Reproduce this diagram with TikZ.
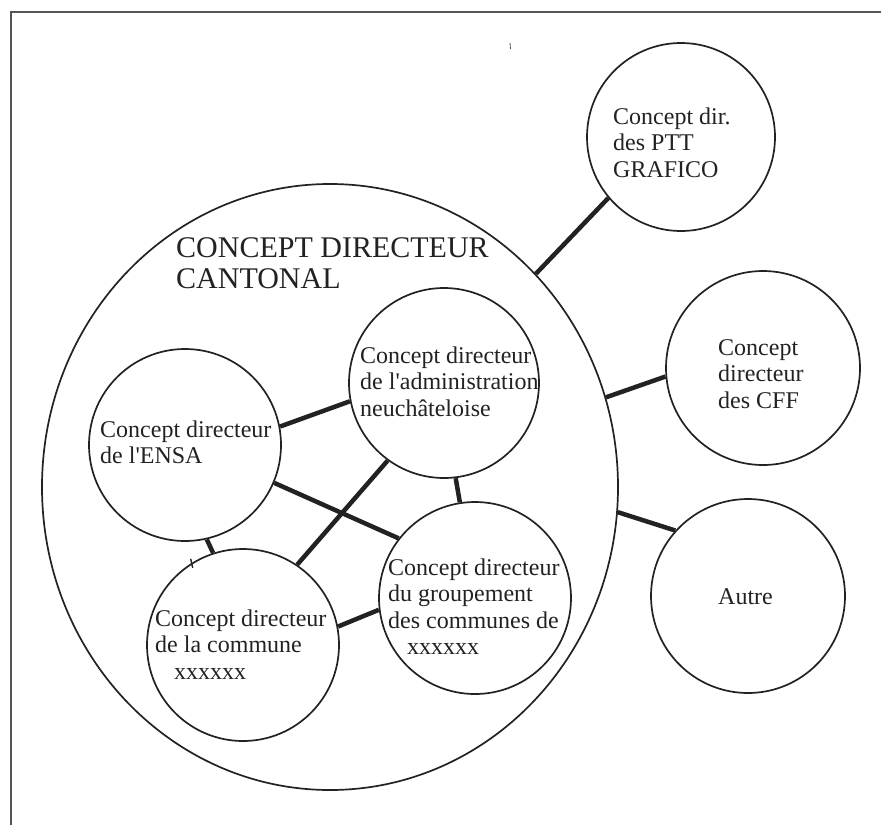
\documentclass[tikz,border=0pt]{standalone}
\usepackage{fontspec}
\setmainfont{Liberation Serif}
\usetikzlibrary{shapes.geometric}
\definecolor{ink}{HTML}{222222}
\definecolor{frame}{HTML}{555555}
\begin{document}
\begin{tikzpicture}[x=1pt,y=-1pt,
  circ/.style={circle,draw=ink,line width=1.7pt,minimum size=#1,inner sep=0pt},
  link/.style={draw=ink,line width=4.5pt},
  lbl/.style={anchor=base west,inner sep=0pt,align=left,text=ink,font=\fontsize{24}{26.5}\selectfont},
  ttl/.style={lbl,font=\fontsize{30}{31}\selectfont}
]
\useasboundingbox (0,0) rectangle (881,825);
\draw[frame,line width=1.5pt] (11,825) -- (11,12) -- (881,12);
\draw[frame,line width=0.8pt] (510,43) -- (510.5,49);

\node[ellipse,draw=ink,line width=1.7pt,minimum width=576pt,minimum height=606pt,inner sep=0pt] (big) at (330,487) {};
\node[circ=188pt] (ptt) at (681,137) {};
\node[circ=194pt] (cff) at (763,368) {};
\node[circ=194pt] (autre) at (748,596) {};
\node[circ=190pt] (admin) at (444,383) {};
\node[circ=192pt] (ensa) at (185,445) {};
\node[circ=192pt] (commune) at (243,645) {};
\node[circ=192pt] (grp) at (475,598) {};

% base anchor = baseline of the last line
\node[ttl] (title) at (176,288) {CONCEPT DIRECTEUR\\CANTONAL};
\node[lbl] (tptt) at (613,177) {Concept dir.\\des PTT\\GRAFICO};
\node[lbl] (tcff) at (718,408) {Concept\\directeur\\des CFF};
\node[lbl] (tautre) at (718,604) {Autre};
\node[lbl] (tadmin) at (360,416) {Concept directeur\\de l\textquotesingle administration\\neuchâteloise};
\node[lbl] (tensa) at (100,463.5) {Concept directeur\\de l\textquotesingle ENSA};
\node[lbl] (tcommune) at (155,679) {Concept directeur\\de la commune\\\hspace{19pt}xxxxxx};
\node[lbl] (tgrp) at (388,654.5) {Concept directeur\\du groupement\\des communes de\\\hspace{19pt}xxxxxx};

\draw[link] (big.46) -- (ptt.220);
\draw[link] (big.18) -- (cff.185);
\draw[link] (big.-5) -- (autre.138);
\draw[link] (ensa.11) -- (admin.191);
\draw[link] (admin.234) -- (commune.56);
\draw[link] (admin.277) -- (grp.99);
\draw[link] (ensa.337) -- (grp.142);
\draw[link] (ensa.283) -- (commune.108);
\draw[link] (commune.11) -- (grp.187);
\draw[ink,line width=1.4pt] (commune.122) ++(-1,-4) -- ++(2,9);
\end{tikzpicture}
\end{document}
